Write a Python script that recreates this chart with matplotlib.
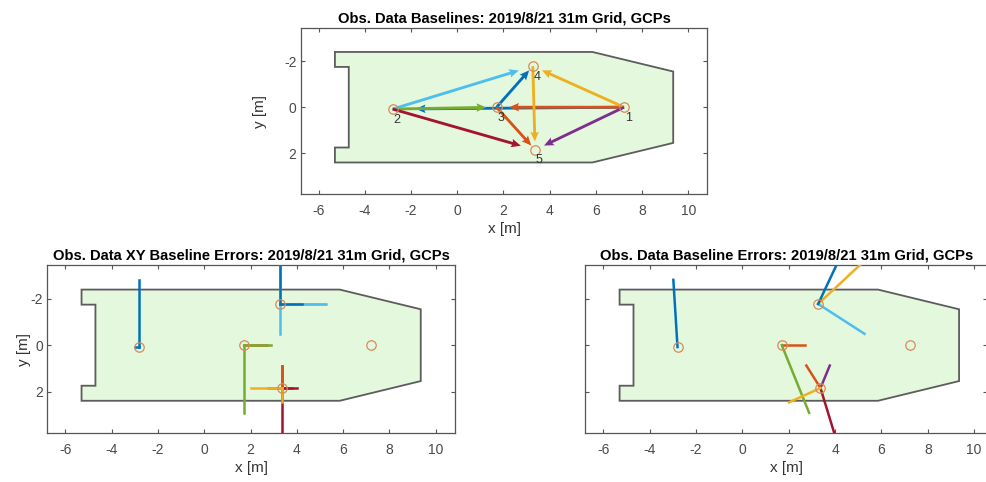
import matplotlib
matplotlib.use('Agg')
from matplotlib import pyplot as plt

plt.rcParams['font.family'] = ['Liberation Sans', 'DejaVu Sans']
plt.rcParams['axes.unicode_minus'] = False

# GCP positions [m]
gcp_x = [7.22, -2.80, 1.70, 3.27, 3.37]
gcp_y = [0.00, 0.08, 0.00, -1.78, 1.85]
gcp_names = ['1', '2', '3', '4', '5']

# baselines between GCPs (0-based index of start and end point)
base_from = [0, 0, 0, 0, 1, 1, 1, 2, 2, 3]
base_to = [1, 2, 3, 4, 2, 3, 4, 3, 4, 4]

# baseline errors, drawn at the end point of each baseline (scaled, plot units)
err_dx = [-0.18, 1.00, 1.93, 0.40, 1.18, 2.00, 0.62, 0.94, -0.61, -1.36]
err_dy = [-2.90, 0.00, -1.80, -0.97, 2.92, 1.29, 2.03, -2.00, -0.97, 0.62]

# outline of the 31m grid
grid_x = [-5.3, 5.85, 9.35, 9.35, 5.85, -5.3, -5.3, -4.7, -4.7, -5.3, -5.3]
grid_y = [-2.4, -2.4, -1.55, 1.55, 2.4, 2.4, 1.75, 1.75, -1.75, -1.75, -2.4]

# default line color order
colors = ['#0072BD', '#D95319', '#EDB120', '#7E2F8E', '#77AC30', '#4DBEEE', '#A2142F']

date_str = '2019/8/21 31m Grid, GCPs'


def setup_axes(ax, title, ylabelpad=None, xmax=10.83):
    ax.fill(grid_x, grid_y, fc='#e3f8dc', ec='#5c5c5c', lw=1.3, zorder=1)
    ax.plot(gcp_x, gcp_y, 'o', mfc='none', mec='#d98a5c', ms=6.8, mew=0.9, zorder=6)
    ax.set_xlim(-6.78, xmax)
    ax.set_ylim(3.79, -3.44)
    ax.set_xticks(range(-6, 11, 2))
    ax.set_yticks([-2, 0, 2])
    ax.tick_params(direction='in', top=True, right=True, length=3, width=0.8,
                   color='#555555', labelcolor='#4a4a4a', labelsize=10)
    ax.tick_params(axis='x', pad=7)
    ax.tick_params(axis='y', pad=3)
    for s in ax.spines.values():
        s.set_color('#555555')
        s.set_linewidth(0.9)
    ax.set_xlabel('x [m]', fontsize=11, color='#333333', labelpad=3)
    if ylabelpad is not None:
        ax.set_ylabel('y [m]', fontsize=11, color='#333333', labelpad=ylabelpad)
    else:
        ax.set_yticklabels([])
    ax.set_title(title, fontsize=10.6, fontweight='bold', pad=4)


fig = plt.figure(figsize=(9.87, 4.82), dpi=100)
ax_top = fig.add_axes([0.3047, 0.5965, 0.412, 0.3454])
ax_xy = fig.add_axes([0.0479, 0.1017, 0.4131, 0.3475])
ax_err = fig.add_axes([0.593, 0.1017, 0.4071, 0.3475])

# baselines as arrows between GCPs
setup_axes(ax_top, 'Obs. Data Baselines: ' + date_str, ylabelpad=12)
for k, (i, j) in enumerate(zip(base_from, base_to)):
    ax_top.quiver(gcp_x[i], gcp_y[i], gcp_x[j] - gcp_x[i], gcp_y[j] - gcp_y[i],
                  angles='xy', scale_units='xy', scale=1 / 0.9,
                  color=colors[k % len(colors)], width=0.007,
                  headwidth=3.0, headlength=3.4, headaxislength=3.0, zorder=3)
for x, y, name in zip(gcp_x, gcp_y, gcp_names):
    ax_top.text(x + 0.18, y + 0.2, name, ha='center', va='top', fontsize=9,
                color='#333333', zorder=7)

# x and y error components
setup_axes(ax_xy, 'Obs. Data XY Baseline Errors: ' + date_str, ylabelpad=0)
for k, j in enumerate(base_to):
    c = colors[k % len(colors)]
    x0, y0 = gcp_x[j], gcp_y[j]
    ax_xy.plot([x0, x0 + err_dx[k]], [y0, y0], color=c, lw=1.8, zorder=3)
    ax_xy.plot([x0, x0], [y0, y0 + err_dy[k]], color=c, lw=1.8, zorder=3)

# error vectors
setup_axes(ax_err, 'Obs. Data Baseline Errors: ' + date_str, xmax=10.56)
for k, j in enumerate(base_to):
    c = colors[k % len(colors)]
    x0, y0 = gcp_x[j], gcp_y[j]
    ax_err.plot([x0, x0 + err_dx[k]], [y0, y0 + err_dy[k]], color=c, lw=1.8, zorder=3)

fig.savefig('out.png', dpi=100)
